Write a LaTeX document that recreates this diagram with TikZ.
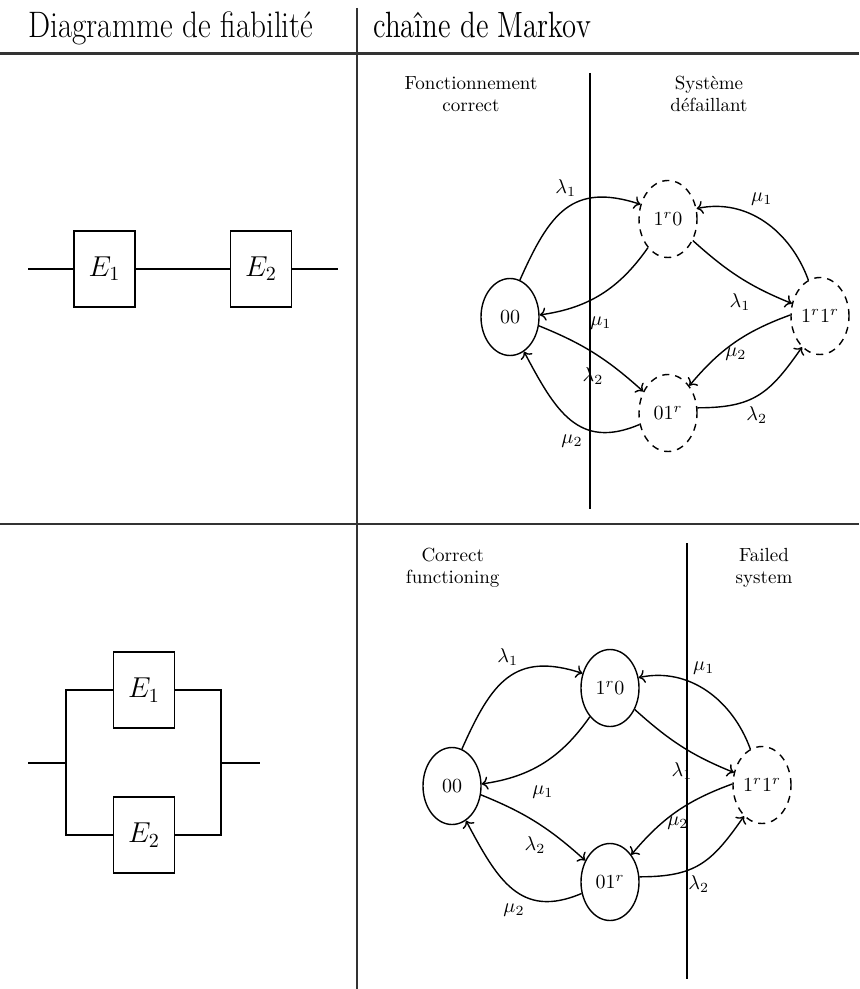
\documentclass[tikz,border=0pt]{standalone}
\usepackage{graphicx}
\usetikzlibrary{shapes.geometric,arrows.meta}
\newcommand{\mchain}[2]{%
  \node[st] (#1-00) at (510,317) {00};
  \node[st,#2] (#1-10) at (668,219) {$1^r0$};
  \node[st,#2] (#1-01) at (668,413) {$01^r$};
  \node[st,fail] (#1-11) at (820,316) {$1^r1^r$};
  \draw[edge] (#1-00.75) to[out=66,in=162,looseness=1.3] (#1-10.152);
  \draw[edge] (#1-10.235) to[out=235,in=8] (#1-00.4);
  \draw[edge] (#1-00.-17) to[out=-22,in=138] (#1-01.139);
  \draw[edge] (#1-01.202) to[out=203,in=-62,looseness=1.25] (#1-00.-68);
  \draw[edge] (#1-11.108) to[out=110,in=12] (#1-10.20);
  \draw[edge] (#1-10.-41) to[out=-42,in=158] (#1-11.156);
  \draw[edge] (#1-11.178) to[out=200,in=50] (#1-01.52);
  \draw[edge] (#1-01.10) to[out=0,in=235,looseness=1.2] (#1-11.240);
  \node[lab] (#1-l1)  at (565.8,188.3) {$\lambda_1$};
  \node[lab] (#1-m1)  at (600.8,323.3) {$\mu_1$};
  \node[lab] (#1-l2)  at (593,375.8)   {$\lambda_2$};
  \node[lab] (#1-m2)  at (572,441.5)   {$\mu_2$};
  \node[lab] (#1-m1r) at (761.7,199)   {$\mu_1$};
  \node[lab] (#1-l1r) at (740,302.5)   {$\lambda_1$};
  \node[lab] (#1-m2r) at (735.8,354)   {$\mu_2$};
  \node[lab] (#1-l2r) at (756.7,415)   {$\lambda_2$};
}
\begin{document}
\begin{tikzpicture}[x=0.5pt,y=-0.5pt,
  st/.style={ellipse,draw,line width=0.7pt,minimum width=29pt,minimum height=38.5pt,inner sep=0pt,font=\fontsize{10}{12}\selectfont},
  fail/.style={dash pattern=on 3.5pt off 3pt},
  edge/.style={->,line width=0.7pt},
  lab/.style={inner sep=0pt,font=\fontsize{10}{12}\selectfont},
  side/.style={inner sep=0pt,anchor=base,font=\fontsize{9.5}{11}\selectfont},
  blk/.style={draw,line width=0.7pt,minimum width=30.5pt,minimum height=38pt,inner sep=0pt,font=\fontsize{14.4}{17}\selectfont},
  wire/.style={line width=0.7pt},
  sep/.style={line width=1.4pt},
  rulestyle/.style={black!80},
  head/.style={inner sep=0pt,anchor=base west}]
\useasboundingbox (0,0) rectangle (859,989);
% table rules
\coordinate (rt1) at (0,54);   \coordinate (rt2) at (859,54);
\coordinate (rm1) at (0,524);  \coordinate (rm2) at (859,524);
\coordinate (rv1) at (357,8);  \coordinate (rv2) at (357,989);
\draw[rulestyle,line width=1.5pt] (rt1) -- (rt2);
\draw[rulestyle,line width=0.8pt] (rm1) -- (rm2);
\draw[rulestyle,line width=0.6pt] (rv1) -- (rv2);
% headers
\node[head,font=\fontsize{15.6}{18}\selectfont] (h1) at (28,38) {\scalebox{1}[1.18]{Diagramme de fiabilité}};
\node[head,font=\fontsize{14.4}{17}\selectfont] (h2) at (373,38) {\scalebox{1}[1.27]{chaîne de Markov}};
% series diagram
\node[blk] (s1) at (104.5,269) {$E_1$};
\node[blk] (s2) at (261,269) {$E_2$};
\coordinate (sin) at (28,269);
\coordinate (sout) at (338,269);
\draw[wire] (sin) -- (s1) -- (s2) -- (sout);
% parallel diagram
\node[blk] (p1) at (144,690) {$E_1$};
\node[blk] (p2) at (144,835) {$E_2$};
\coordinate (pin) at (28,763);
\coordinate (pl) at (66,763);
\coordinate (pr) at (221,763);
\coordinate (pout) at (260,763);
\draw[wire] (pin) -- (pl);
\draw[wire] (p1.west) -| (pl) |- (p2.west);
\draw[wire] (p1.east) -| (pr) |- (p2.east);
\draw[wire] (pr) -- (pout);
% top Markov chain
\mchain{T}{fail}
\node[side] (fc1) at (471,90) {Fonctionnement};
\node[side] (fc2) at (471,112) {correct};
\node[side] (sd1) at (709,90) {Système};
\node[side] (sd2) at (709,112) {défaillant};
\coordinate (ts1) at (590,73);
\coordinate (ts2) at (590,509);
\draw[sep] (ts1) -- (ts2);
% bottom Markov chain
\begin{scope}[shift={(-58,469)}]
\mchain{B}{}
\end{scope}
\node[side] (cf1) at (452.7,561.5) {Correct};
\node[side] (cf2) at (452.7,583.5) {functioning};
\node[side] (fs1) at (764,561.5) {Failed};
\node[side] (fs2) at (764,583.5) {system};
\coordinate (bs1) at (687,543);
\coordinate (bs2) at (687,979);
\draw[sep] (bs1) -- (bs2);
\end{tikzpicture}
\end{document}
